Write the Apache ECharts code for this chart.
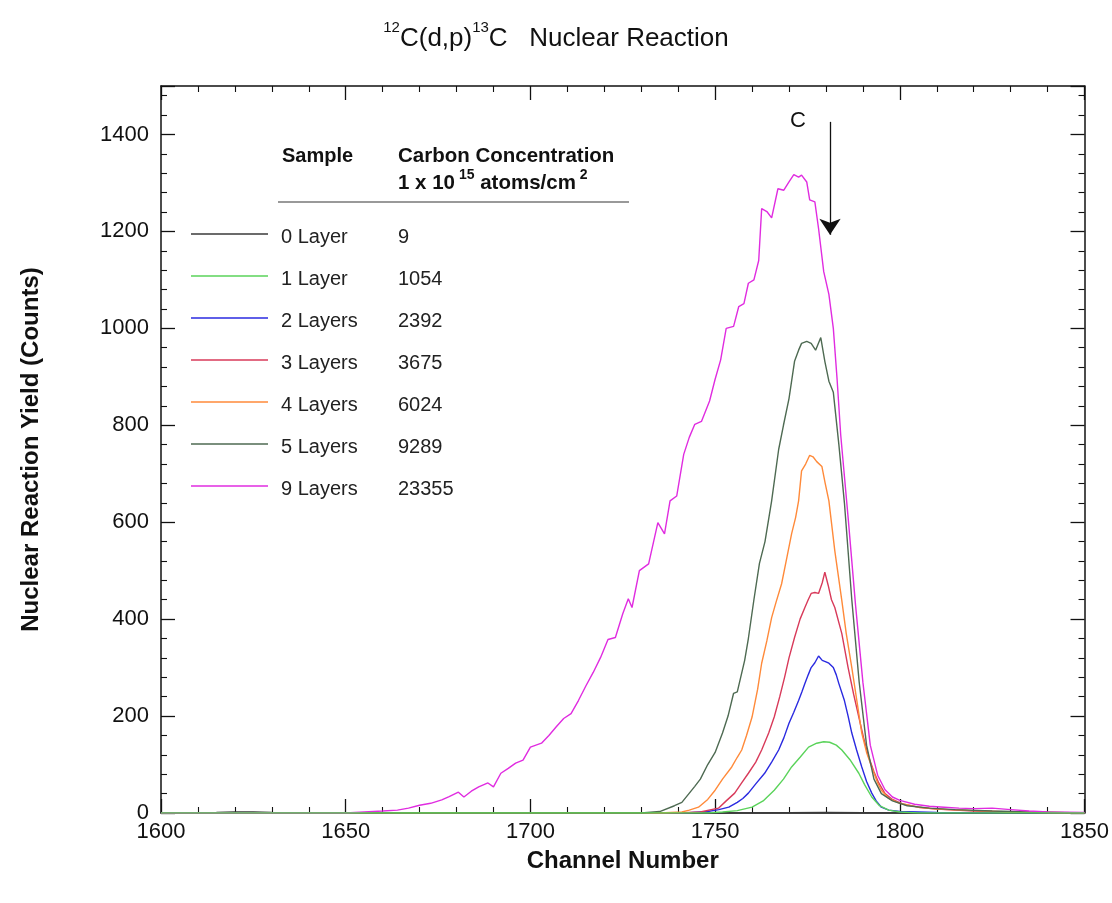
<!DOCTYPE html>
<html><head><meta charset="utf-8">
<script src="https://cdn.jsdelivr.net/npm/echarts@6/dist/echarts.min.js"></script>
<style>html,body{margin:0;padding:0;background:#fff}#c{width:1112px;height:903px}</style>
</head><body><div id="c"></div>
<script>
// ---------- DATA ----------
const sampleNames = ['0 Layer','1 Layer','2 Layers','3 Layers','4 Layers','5 Layers','9 Layers'];
const concentrations = ['9','1054','2392','3675','6024','9289','23355'];
const seriesColors = ['#3a3a3a','#5ad35a','#2a2ae0','#d83a5a','#ff8a3a','#4e6a52','#e02ce0'];

const ch0 = [1600,1615,1620,1625,1630,1650,1700,1760,1780,1800,1850];
const ct0 = [0,1,2,2,1,0,0,0,1,0,0];

const ch1 = [1600,1748,1752,1756,1760,1763,1766,1768.5,1770.7,1773,1775.3,1777.5,1779.4,1781,1782.8,1784.3,1786.5,1788.9,1790.5,1792.4,1794.5,1797,1800,1805,1850];
const ct1 = [0,0,2,5,12,25,47,70,95,115,136,144,147,146,140,130,110,82,58,33,15,6,2,0,0];

const ch2 = [1600,1742,1748,1751,1753.7,1756,1757.5,1759,1761,1763.4,1765.3,1767.2,1768.6,1770,1771.3,1772.6,1773.5,1774.3,1775.2,1776,1777,1778,1779,1780,1780.8,1782,1782.8,1783.5,1785,1786,1787,1788.3,1789.7,1791,1792.4,1793.6,1795,1797,1800,1810,1850];
const ct2 = [0,0,3,7,12,22,30,41,60,82,105,130,155,185,208,232,250,267,285,300,310,324,315,312,309,300,285,267,232,200,165,130,95,65,41,25,12,6,3,1,0];

const ch3 = [1600,1740,1746,1750.9,1753,1755.3,1757,1759,1761,1762.6,1764.5,1766,1767.5,1768.8,1770,1771.5,1773,1774.3,1775.2,1776,1777,1778,1779,1779.7,1780.6,1781.5,1782.4,1784.3,1786,1787.5,1788.9,1790.2,1791.6,1793,1794.3,1796,1798,1801,1805,1810,1820,1830,1850];
const ct3 = [0,0,2,10,25,41,60,82,105,130,165,198,240,280,320,362,400,424,440,453,455,453,475,497,470,440,424,370,300,245,198,155,115,85,62,40,28,18,12,8,4,2,0];

const ch4 = [1600,1735,1741,1743,1745.5,1748,1750,1752,1754.5,1756,1757.2,1758.5,1760,1761.5,1762.6,1764,1765.3,1766.5,1768,1769.5,1770.7,1771.8,1772.6,1773.4,1774.5,1775.6,1776.5,1777.5,1778.9,1779.8,1780.8,1782.4,1784.3,1785.5,1787,1788.5,1789.7,1791,1792.4,1794,1795,1797,1800,1805,1810,1820,1830,1850];
const ct4 = [0,0,2,6,12,28,47,70,95,115,130,160,198,255,309,355,403,435,473,530,576,610,644,706,720,738,735,725,715,680,644,541,438,370,300,225,165,125,95,62,47,30,20,12,8,5,2,0];

const ch5 = [1600,1730,1735,1739,1741,1744.5,1746,1748,1750,1752,1753.5,1755,1756,1758,1759,1760.5,1762,1763.5,1765.3,1767.2,1768.5,1770,1771.5,1772.6,1773.4,1774.8,1776,1777.2,1778.6,1779.7,1780.8,1782,1783.5,1785,1787,1789,1791,1793,1795,1798,1802,1808,1815,1825,1835,1850];
const ct5 = [0,0,3,15,22,55,70,100,125,165,200,247,250,315,360,440,515,560,644,750,800,855,932,955,969,973,969,955,981,932,891,868,760,640,440,270,140,70,40,25,15,10,7,4,2,0];

const ch9 = [1600,1650,1655,1660,1664,1667,1670,1673,1676,1678,1680.5,1682,1684,1686,1688.5,1690,1692,1694,1696,1698,1700,1703,1705,1707,1709,1711,1713,1715,1717,1719,1721,1723,1725,1726.5,1727.5,1729.5,1732,1734.5,1736.3,1737.8,1739.6,1741.5,1743,1744.5,1746.3,1748.5,1750,1751.5,1753,1755,1756.4,1757.8,1759,1760.5,1761.8,1762.6,1764,1765.3,1767,1768.6,1770,1771.3,1772.6,1773.4,1774.8,1775.6,1777,1778,1779.4,1780.8,1782,1783,1784,1786,1788,1790,1792,1794,1796,1798,1800,1804,1808,1812,1816,1820,1825,1830,1835,1840,1850];
const ct9 = [0,0,2,4,6,10,16,20,27,34,43,33,45,54,62,54,82,92,103,109,136,144,160,178,195,205,232,262,290,321,358,362,411,442,424,500,514,599,576,644,654,740,775,802,808,850,895,935,1000,1004,1045,1051,1093,1100,1140,1247,1241,1228,1288,1285,1302,1317,1312,1316,1302,1265,1261,1206,1117,1070,1000,897,780,610,430,270,140,78,48,33,26,18,14,12,10,9,10,7,4,2,1];

const xTicks = {min:1600, max:1850, interval:50};
const yTicks = {min:0, max:1500, interval:200};

// ---------- BUILD ----------
const chans = [ch0,ch1,ch2,ch3,ch4,ch5,ch9];
const counts = [ct0,ct1,ct2,ct3,ct4,ct5,ct9];
const FONT = '"Liberation Sans", Arial, sans-serif';

const series = sampleNames.map((name,i)=>({
  name, type:'line', symbol:'none', animation:false, silent:true,
  data: chans[i].map((c,k)=>[c, counts[i][k]]),
  lineStyle:{color:seriesColors[i], width:1.4},
  itemStyle:{color:seriesColors[i]},
  z: i===1 ? 3 : 2
}));
// arrow annotation for carbon surface position
series[6].markLine = {
  silent:true, animation:false, symbol:['none','arrow'], symbolSize:16,
  label:{show:false}, lineStyle:{color:'#111', width:1.3, type:'solid'},
  data:[[{coord:[1781.1,1426]},{coord:[1781.1,1193]}]]
};
series[6].markPoint = {
  silent:true, animation:false,
  data:[{coord:[1772.4,1428], symbol:'circle', symbolSize:1, itemStyle:{color:'rgba(0,0,0,0)'},
    label:{show:true, position:'inside', formatter:'C', fontSize:22, color:'#111', fontFamily:FONT}}]
};

const graphics = [];
graphics.push({type:'text', left:282, top:146, style:{text:'Sample', font:'bold 20px '+FONT, fill:'#111'}});
graphics.push({type:'text', left:398, top:146, style:{text:'Carbon Concentration', font:'bold 20.5px '+FONT, fill:'#111'}});
graphics.push({type:'text', left:398, top:168, style:{
  text:'{n|1 x 10}{s| 15}{n| atoms/cm}{s| 2}',
  rich:{n:{fontSize:20.5, fontWeight:'bold', fontFamily:FONT, fill:'#111', lineHeight:26, verticalAlign:'bottom'},
        s:{fontSize:14, fontWeight:'bold', fontFamily:FONT, fill:'#111', lineHeight:26, verticalAlign:'top'}}}});
graphics.push({type:'line', shape:{x1:278,y1:202,x2:629,y2:202}, style:{stroke:'#777', lineWidth:1.5}});
sampleNames.forEach((name,i)=>{
  const ly = 234 + 42*i;
  graphics.push({type:'line', shape:{x1:191,y1:ly,x2:268,y2:ly}, style:{stroke:seriesColors[i], lineWidth:1.6}});
  graphics.push({type:'text', left:281, top:ly-7, style:{text:name, font:'20px '+FONT, fill:'#222'}});
  graphics.push({type:'text', left:398, top:ly-7, style:{text:concentrations[i], font:'20px '+FONT, fill:'#222'}});
});

const axisCommon = {
  axisLine:{show:true, onZero:false, lineStyle:{color:'#111', width:1.5}},
  axisTick:{show:true, inside:true, length:14, lineStyle:{color:'#111', width:1.3}},
  minorTick:{show:true, splitNumber:5, length:6, lineStyle:{color:'#111', width:1.1}},
  splitLine:{show:false}
};

const option = {
  backgroundColor:'#fff',
  animation:false,
  title:{
    left:'center', top:15,
    text:'{s|12}{n|C(d,p)}{s|13}{n|C   Nuclear Reaction}',
    textStyle:{fontWeight:'normal', rich:{
      n:{fontSize:26, fontWeight:'normal', fontFamily:FONT, color:'#111', lineHeight:32, verticalAlign:'bottom'},
      s:{fontSize:15, fontWeight:'normal', fontFamily:FONT, color:'#111', lineHeight:32, verticalAlign:'top'}}}
  },
  grid:{left:161, right:27, top:86, bottom:90, containLabel:false},
  xAxis:[
    Object.assign({type:'value', position:'bottom', min:xTicks.min, max:xTicks.max, interval:xTicks.interval,
      name:'Channel Number', nameLocation:'middle', nameGap:36,
      nameTextStyle:{fontSize:24, fontWeight:'bold', fontFamily:FONT, color:'#111'},
      axisLabel:{fontSize:22, fontFamily:FONT, color:'#111', margin:8, formatter:v=>String(v)}}, axisCommon),
    Object.assign({type:'value', position:'top', min:xTicks.min, max:xTicks.max, interval:xTicks.interval,
      axisLabel:{show:false}}, axisCommon)
  ],
  yAxis:[
    Object.assign({type:'value', position:'left', min:yTicks.min, max:yTicks.max, interval:yTicks.interval,
      name:'Nuclear Reaction Yield (Counts)', nameLocation:'middle', nameGap:118, nameRotate:90,
      nameTextStyle:{fontSize:24, fontWeight:'bold', fontFamily:FONT, color:'#111'},
      axisLabel:{fontSize:22, fontFamily:FONT, color:'#111', margin:12, showMaxLabel:false,
        formatter:v=> v>1400 ? '' : String(v)}}, axisCommon),
    Object.assign({type:'value', position:'right', min:yTicks.min, max:yTicks.max, interval:yTicks.interval,
      axisLabel:{show:false}}, axisCommon)
  ],
  graphic: graphics,
  series
};

const chart = echarts.init(document.getElementById('c'), null, {renderer:'canvas'});
chart.setOption(option);
</script></body></html>
